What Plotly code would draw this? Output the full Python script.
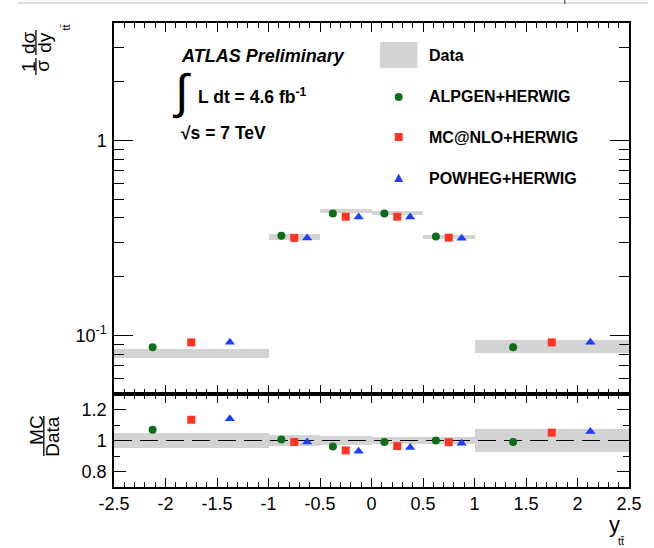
import numpy as np
import plotly.graph_objects as go

# ---------------- data ----------------
bin_edges = [-2.5, -1.0, -0.5, 0.0, 0.5, 1.0, 2.5]
data_vals = [0.081, 0.320, 0.434, 0.425, 0.320, 0.0879]
data_relerr = [0.050, 0.035, 0.027, 0.020, 0.022, 0.072]

alpgen_vals = [0.0868, 0.324, 0.421, 0.421, 0.321, 0.0868]
mcnlo_vals = [0.092, 0.316, 0.406, 0.406, 0.317, 0.092]
powheg_vals = [0.092, 0.316, 0.405, 0.405, 0.315, 0.092]

alpgen_ratio = [1.070, 1.006, 0.962, 0.991, 1.000, 0.991]
mcnlo_ratio = [1.134, 0.991, 0.936, 0.964, 0.989, 1.051]
powheg_ratio = [1.140, 0.990, 0.930, 0.955, 0.983, 1.058]

series_names = ["ALPGEN+HERWIG", "MC@NLO+HERWIG", "POWHEG+HERWIG"]
x_tickvals = [-2.5, -2, -1.5, -1, -0.5, 0, 0.5, 1, 1.5, 2, 2.5]
x_ticktext = ["-2.5", "-2", "-1.5", "-1", "-0.5", "0", "0.5", "1", "1.5", "2", "2.5"]
y_tickvals = [0.1, 1]
y_ticktext = ["10<sup>-1</sup>", "1"]
r_tickvals = [0.8, 1.0, 1.2]
r_ticktext = ["0.8", "1", "1.2"]

# ---------------- styles ----------------
W, H = 654, 548
ML, MR, MT, MB = 114, 19, 23, 61
PW, PH = W - ML - MR, H - MT - MB
FONT = "Liberation Sans, Arial, sans-serif"
BAND = "#d3d3d3"
COLORS = ["#0d6e1a", "#ff3322", "#1f3dff"]
SYMBOLS = ["circle", "square", "triangle-up"]
SIZES = [8, 8, 9]


def px(x, y):
    return (x - ML) / PW, (H - MB - y) / PH


edges = np.array(bin_edges)
centers = 0.5 * (edges[:-1] + edges[1:])
widths = edges[1:] - edges[:-1]
dv = np.array(data_vals)
de = np.array(data_relerr)

fig = go.Figure()

# data bands (top)
fig.add_trace(go.Bar(x=centers, width=widths, base=dv * (1 - de), y=dv * 2 * de,
                     marker=dict(color=BAND, line=dict(width=0)), xaxis="x", yaxis="y",
                     showlegend=False, hoverinfo="skip"))
# data bands (ratio)
fig.add_trace(go.Bar(x=centers, width=widths, base=1 - de, y=2 * de,
                     marker=dict(color=BAND, line=dict(width=0)), xaxis="x2", yaxis="y2",
                     showlegend=False, hoverinfo="skip"))
# dashed unity line
fig.add_trace(go.Scatter(x=[bin_edges[0], bin_edges[-1]], y=[1, 1], mode="lines",
                         line=dict(color="black", width=1, dash="18px,8px"),
                         xaxis="x2", yaxis="y2", showlegend=False, hoverinfo="skip"))

top_series = [alpgen_vals, mcnlo_vals, powheg_vals]
ratio_series = [alpgen_ratio, mcnlo_ratio, powheg_ratio]
for k in range(3):
    xk = edges[:-1] + widths * (k + 1) / 4.0
    fig.add_trace(go.Scatter(x=xk, y=top_series[k], mode="markers", name=series_names[k],
                             marker=dict(color=COLORS[k], symbol=SYMBOLS[k], size=SIZES[k],
                                         line=dict(width=0)),
                             xaxis="x", yaxis="y", showlegend=False))
    fig.add_trace(go.Scatter(x=xk, y=ratio_series[k], mode="markers", name=series_names[k],
                             marker=dict(color=COLORS[k], symbol=SYMBOLS[k], size=SIZES[k],
                                         line=dict(width=0)),
                             xaxis="x2", yaxis="y2", showlegend=False))

split = (H - MB - 394) / PH

axis_common = dict(showline=True, linecolor="black", linewidth=1.5, mirror="ticks",
                   ticks="inside", tickcolor="black", tickwidth=1.2, showgrid=False,
                   zeroline=False, tickfont=dict(family=FONT, size=18, color="black"))

minor_log = [0.05, 0.06, 0.07, 0.08, 0.09, 0.2, 0.3, 0.4, 0.5, 0.6, 0.7, 0.8, 0.9, 2, 3, 4]

fig.update_layout(
    width=W, height=H, margin=dict(l=ML, r=MR, t=MT, b=MB),
    paper_bgcolor="white", plot_bgcolor="white", barmode="overlay", bargap=0,
    showlegend=False,
    xaxis=dict(axis_common, domain=[0, 1], range=[-2.5, 2.5], anchor="y",
               tickmode="array", tickvals=x_tickvals, showticklabels=False, ticklen=9,
               minor=dict(ticks="inside", ticklen=5, dtick=0.1, tickcolor="black", tickwidth=1)),
    yaxis=dict(axis_common, domain=[split, 1], type="log",
               range=[np.log10(0.05), np.log10(4.0)], anchor="x",
               tickmode="array", tickvals=y_tickvals, ticktext=y_ticktext, ticklen=19,
               ticklabelstandoff=2,
               minor=dict(ticks="inside", ticklen=10, tickmode="array", tickvals=minor_log,
                          tickcolor="black", tickwidth=1)),
    xaxis2=dict(axis_common, domain=[0, 1], range=[-2.5, 2.5], anchor="y2",
                tickmode="array", tickvals=x_tickvals, ticktext=x_ticktext, ticklen=9,
                minor=dict(ticks="inside", ticklen=5, dtick=0.1, tickcolor="black", tickwidth=1)),
    yaxis2=dict(axis_common, domain=[0, split], range=[0.7, 1.3], anchor="x2",
                tickmode="array", tickvals=r_tickvals, ticktext=r_ticktext, ticklen=12,
                ticklabelstandoff=2,
                minor=dict(ticks="inside", ticklen=6, dtick=0.1, tickcolor="black", tickwidth=1)),
)

ann = []
shapes = []


def text(x, y, s, size, xanchor="center", angle=0, color="black", family=FONT):
    xp, yp = px(x, y)
    ann.append(dict(x=xp, y=yp, xref="paper", yref="paper", text=s, showarrow=False,
                    xanchor=xanchor, yanchor="middle", textangle=angle,
                    font=dict(family=family, size=size, color=color)))


def vline(x, y0, y1, width=1.3, color="black"):
    xp, y0p = px(x, y0)
    _, y1p = px(x, y1)
    shapes.append(dict(type="line", xref="paper", yref="paper", x0=xp, x1=xp, y0=y0p, y1=y1p,
                       line=dict(color=color, width=width)))


# ATLAS labels
text(180, 56, "<b><i>ATLAS Preliminary</i></b>", 18, "left")
text(182, 92, "∫", 48, "center", family="Liberation Sans, sans-serif")
text(197, 96, "<b>L dt = 4.6 fb<sup>-1</sup></b>", 17.5, "left")
text(180, 133, "<b>√s = 7 TeV</b>", 17.5, "left")

# legend
x0p, y0p = px(383, 42)
x1p, y1p = px(421, 68)
shapes.append(dict(type="rect", xref="paper", yref="paper", x0=x0p, x1=x1p, y0=y1p, y1=y0p,
                   fillcolor=BAND, line=dict(width=0)))
text(431, 56, "<b>Data</b>", 16, "left")
leg_y = [97, 137, 178]
for k in range(3):
    text(431, leg_y[k], "<b>" + series_names[k] + "</b>", 16, "left")
cx, cy = 402, leg_y[0]
a0, b0 = px(cx - 4, cy + 4)
a1, b1 = px(cx + 4, cy - 4)
shapes.append(dict(type="circle", xref="paper", yref="paper", x0=a0, x1=a1, y0=b0, y1=b1,
                   fillcolor=COLORS[0], line=dict(width=0)))
cx, cy = 402, leg_y[1]
a0, b0 = px(cx - 4, cy + 4)
a1, b1 = px(cx + 4, cy - 4)
shapes.append(dict(type="rect", xref="paper", yref="paper", x0=a0, x1=a1, y0=b0, y1=b1,
                   fillcolor=COLORS[1], line=dict(width=0)))
cx, cy = 402, leg_y[2]
p1 = px(cx - 4.5, cy + 4)
p2 = px(cx + 4.5, cy + 4)
p3 = px(cx, cy - 4.5)
shapes.append(dict(type="path", xref="paper", yref="paper",
                   path=f"M {p1[0]} {p1[1]} L {p2[0]} {p2[1]} L {p3[0]} {p3[1]} Z",
                   fillcolor=COLORS[2], line=dict(width=0)))

# y-axis title (top): 1/sigma dsigma/dy_tt
text(28, 66, "1", 19, angle=-90)
text(42, 66, "σ", 19, angle=-90)
vline(35, 58, 75, width=1.3)
text(28, 42, "dσ", 19, angle=-90)
text(44, 42, "dy", 19, angle=-90)
vline(35, 30, 55, width=1.3)
text(65, 28, "tt̄", 11, angle=-90)

# ratio y title
text(35, 430, "MC", 19, angle=-90)
text(51, 436, "Data", 19, angle=-90)
vline(43, 416, 456, width=1.3)

# x title
text(620, 524, "y", 22)
text(627, 541, "tt̄", 11)

# screenshot header line
shapes.append(dict(type="line", xref="paper", yref="paper",
                   x0=px(17, 3)[0], x1=px(654, 3)[0], y0=px(17, 3)[1], y1=px(17, 3)[1],
                   line=dict(color="#bbbbbb", width=1)))
vline(570, 0, 4, width=1.2, color="#555555")

fig.update_layout(annotations=ann, shapes=shapes)
fig.write_html("out.html")
